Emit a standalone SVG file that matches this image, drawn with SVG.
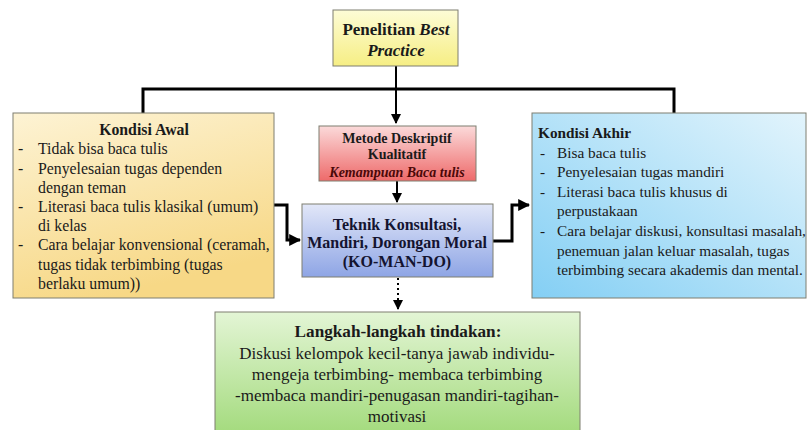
<svg xmlns="http://www.w3.org/2000/svg" width="807" height="430" viewBox="0 0 807 430">
<defs>
<linearGradient id="gTop" x1="0" y1="0" x2="0" y2="1"><stop offset="0" stop-color="#fdfcd6"/><stop offset="1" stop-color="#f6ee84"/></linearGradient>
<linearGradient id="gLeft" x1="0" y1="0" x2="0.35" y2="1"><stop offset="0" stop-color="#fdf3d4"/><stop offset="1" stop-color="#f7d886"/></linearGradient>
<linearGradient id="gRed" x1="0" y1="0" x2="0" y2="1"><stop offset="0" stop-color="#fbdada"/><stop offset="1" stop-color="#ee6a6a"/></linearGradient>
<linearGradient id="gBlue" x1="0" y1="0" x2="0" y2="1"><stop offset="0" stop-color="#e2e7f8"/><stop offset="1" stop-color="#8ea5e5"/></linearGradient>
<linearGradient id="gRight" x1="0" y1="1" x2="1" y2="0"><stop offset="0" stop-color="#84cff4"/><stop offset="1" stop-color="#e2f4fc"/></linearGradient>
<linearGradient id="gGreen" x1="0" y1="0" x2="0" y2="1"><stop offset="0" stop-color="#e3f5d5"/><stop offset="1" stop-color="#a2da7b"/></linearGradient>
<marker id="ah" viewBox="0 0 10 10" refX="9" refY="5" markerWidth="4" markerHeight="4" markerUnits="strokeWidth" orient="auto"><path d="M0,0 L10,5 L0,10 Z" fill="#000"/></marker>
<marker id="ahs" viewBox="0 0 10 10" refX="9" refY="5" markerWidth="5" markerHeight="5" markerUnits="strokeWidth" orient="auto"><path d="M0,0 L10,5 L0,10 Z" fill="#000"/></marker>
</defs>
<style>
.box{stroke:#7e7e70;stroke-width:1}
.t{font-family:"Liberation Serif","Times New Roman",serif;fill:#1a1a1a}
.b{font-weight:bold}
.i{font-style:italic}
.c{text-anchor:middle}
.l16{font-size:15.8px}
.r15{font-size:15.3px}
.conn{fill:none;stroke:#000;stroke-width:3}
.thin{fill:none;stroke:#000;stroke-width:2}
</style>
<g id="connectors">
<path class="thin" d="M396,66 V123" marker-end="url(#ahs)"/>
<path class="conn" d="M143,113 V89 H674 V113"/>
<path class="thin" d="M397,181 V202" marker-end="url(#ahs)"/>
<path class="conn" d="M273,205 H287 V240 H300" marker-end="url(#ah)"/>
<path class="conn" d="M493,241 H512 V205 H529" marker-end="url(#ah)"/>
<path class="thin" d="M398,278 V309" stroke-dasharray="2,3" marker-end="url(#ahs)"/>
</g>
<g id="node-penelitian">
<rect class="box" x="333" y="10" width="125" height="56" fill="url(#gTop)"/>
<text class="t b c" x="396" y="35" font-size="17">Penelitian <tspan class="i">Best</tspan></text>
<text class="t b i c" x="396" y="56" font-size="17">Practice</text>
</g>
<g id="node-kondisi-awal">
<rect class="box" x="13" y="113" width="261" height="185" fill="url(#gLeft)"/>
<text class="t b c" x="144" y="135" font-size="15.8">Kondisi Awal</text>
<g class="t l16">
<text x="18" y="154">-</text><text x="38" y="154">Tidak bisa baca tulis</text>
<text x="18" y="174">-</text><text x="38" y="174">Penyelesaian tugas dependen</text>
<text x="38" y="193">dengan teman</text>
<text x="18" y="212">-</text><text x="38" y="212">Literasi baca tulis klasikal (umum)</text>
<text x="38" y="231">di kelas</text>
<text x="18" y="250">-</text><text x="38" y="250">Cara belajar konvensional (ceramah,</text>
<text x="38" y="270">tugas tidak terbimbing (tugas</text>
<text x="38" y="289">berlaku umum))</text>
</g>
</g>
<g id="node-metode">
<rect class="box" x="319" y="126" width="157" height="55" fill="url(#gRed)"/>
<text class="t b c" x="397" y="143" font-size="14">Metode Deskriptif</text>
<text class="t b c" x="397" y="159" font-size="14">Kualitatif</text>
<text class="t b i c" x="397" y="177" font-size="14" style="fill:#4a0808">Kemampuan Baca tulis</text>
</g>
<g id="node-teknik">
<rect class="box" x="302" y="204" width="191" height="73" fill="url(#gBlue)"/>
<text class="t b c" x="397" y="230" font-size="16" style="fill:#141430">Teknik Konsultasi,</text>
<text class="t b c" x="397" y="248" font-size="16" style="fill:#141430">Mandiri, Dorongan Moral</text>
<text class="t b c" x="397" y="267" font-size="16" style="fill:#141430">(KO-MAN-DO)</text>
</g>
<g id="node-kondisi-akhir">
<rect class="box" x="532" y="113" width="274" height="185" fill="url(#gRight)"/>
<text class="t b" x="538" y="138" font-size="15.3">Kondisi Akhir</text>
<g class="t r15">
<text x="540" y="158">-</text><text x="557" y="158">Bisa baca tulis</text>
<text x="540" y="177">-</text><text x="557" y="177">Penyelesaian tugas mandiri</text>
<text x="540" y="197">-</text><text x="557" y="197">Literasi baca tulis khusus di</text>
<text x="557" y="216">perpustakaan</text>
<text x="540" y="236">-</text><text x="557" y="236">Cara belajar diskusi, konsultasi masalah,</text>
<text x="557" y="256">penemuan jalan keluar masalah, tugas</text>
<text x="557" y="275">terbimbing secara akademis dan mental.</text>
</g>
</g>
<g id="node-langkah">
<rect class="box" x="215" y="312" width="365" height="125" fill="url(#gGreen)"/>
<text class="t b c" x="398" y="337" font-size="17.2">Langkah-langkah tindakan:</text>
<text class="t c" x="397" y="359" font-size="17">Diskusi kelompok kecil-tanya jawab individu-</text>
<text class="t c" x="397" y="380" font-size="17">mengeja terbimbing- membaca terbimbing</text>
<text class="t c" x="397" y="401" font-size="17">-membaca mandiri-penugasan mandiri-tagihan-</text>
<text class="t c" x="397" y="422" font-size="17">motivasi</text>
</g>
</svg>
